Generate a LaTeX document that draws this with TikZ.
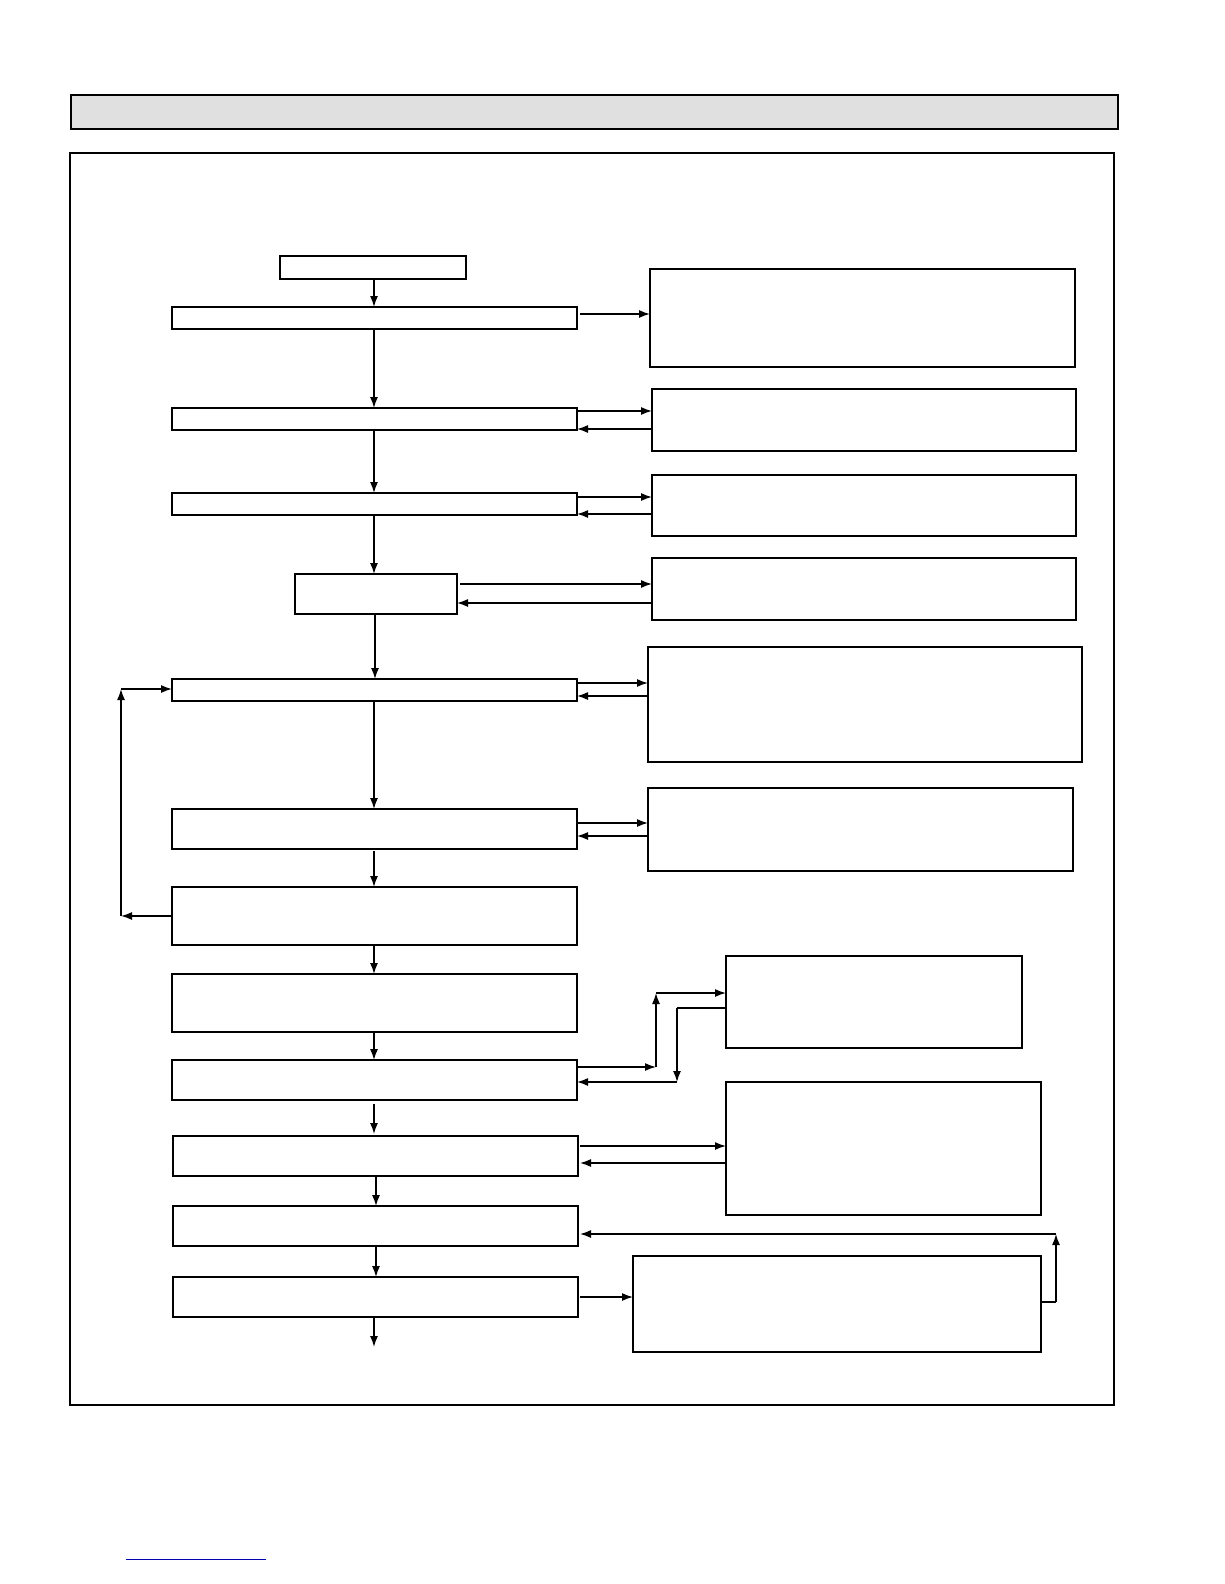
\documentclass[tikz,border=0pt]{standalone}
\usetikzlibrary{arrows.meta}
\begin{document}
\begin{tikzpicture}[x=1bp,y=-1bp,
 bx/.style={draw,line width=1.4bp},
 ar/.style={line width=1.4bp,-{Latex[length=11bp,width=8bp]}},
 ln/.style={line width=1.4bp}]
\useasboundingbox (0,0) rectangle (1224,1584);
\draw[bx,fill=black!12] (71,95) rectangle (1118,129);
\draw[line width=2.2bp] (70,153) rectangle (1114,1405);
\draw[blue!70!black,line width=0.8bp] (126,1559) -- (266,1559);
\foreach \n/\l/\t/\r/\b in {s/280/256/466/279,b1/172/307/577/329,b2/172/408/577/430,b3/172/493/577/515,b4/295/574/457/614,b5/172/679/577/701,b6/172/809/577/849,b7/172/887/577/945,b8/172/974/577/1032,b9/172/1060/577/1100,b10/173/1136/578/1176,b11/173/1206/578/1246,b12/173/1277/578/1317,r1/650/269/1075/367,r2/652/389/1076/451,r3/652/475/1076/536,r4/652/558/1076/620,r5/648/647/1082/762,r6/648/788/1073/871,r7/726/956/1022/1048,r8/726/1082/1041/1215,r9/633/1256/1041/1352}
 \path (\l,\t) coordinate (\n nw) (\r,\b) coordinate (\n se);
\foreach \n in {s,b1,b2,b3,b4,b5,b6,b7,b8,b9,b10,b11,b12,r1,r2,r3,r4,r5,r6,r7,r8,r9}
 \draw[bx] (\n nw) rectangle (\n se);
\draw[ar] (374,279) -- (374,307);
\draw[ar] (374,329) -- (374,408);
\draw[ar] (374,430) -- (374,493);
\draw[ar] (374,515) -- (374,574);
\draw[ar] (375,614) -- (375,679);
\draw[ar] (374,701) -- (374,809);
\draw[ar] (374,851) -- (374,887);
\draw[ar] (374,945) -- (374,974);
\draw[ar] (374,1032) -- (374,1060);
\draw[ar] (374,1104) -- (374,1134);
\draw[ar] (376,1176) -- (376,1206);
\draw[ar] (376,1246) -- (376,1277);
\draw[ar] (374,1317) -- (374,1347);
\draw[ar] (580,314) -- (650,314);
\draw[ar] (577,411) -- (652,411); \draw[ar] (652,429) -- (577,429);
\draw[ar] (577,497) -- (652,497); \draw[ar] (652,514) -- (577,514);
\draw[ar] (460,584) -- (652,584); \draw[ar] (652,603) -- (457,603);
\draw[ar] (577,683) -- (648,683); \draw[ar] (648,696) -- (577,696);
\draw[ar] (577,823) -- (648,823); \draw[ar] (648,836) -- (577,836);
\draw[ar] (172,916) -- (121,916);
\draw[ar] (121,916) -- (121,689);
\draw[ar] (121,689) -- (172,689);
\draw[ar] (577,1067) -- (656,1067);
\draw[ar] (656,1067) -- (656,993);
\draw[ar] (656,993) -- (726,993);
\draw[ln] (726,1008) -- (677,1008);
\draw[ar] (677,1008) -- (677,1082);
\draw[ar] (677,1082) -- (577,1082);
\draw[ar] (580,1146) -- (726,1146); \draw[ar] (726,1163) -- (580,1163);
\draw[ln] (1041,1302) -- (1056,1302);
\draw[ar] (1056,1302) -- (1056,1234);
\draw[ar] (1056,1234) -- (580,1234);
\draw[ar] (580,1297) -- (633,1297);
\end{tikzpicture}
\end{document}
